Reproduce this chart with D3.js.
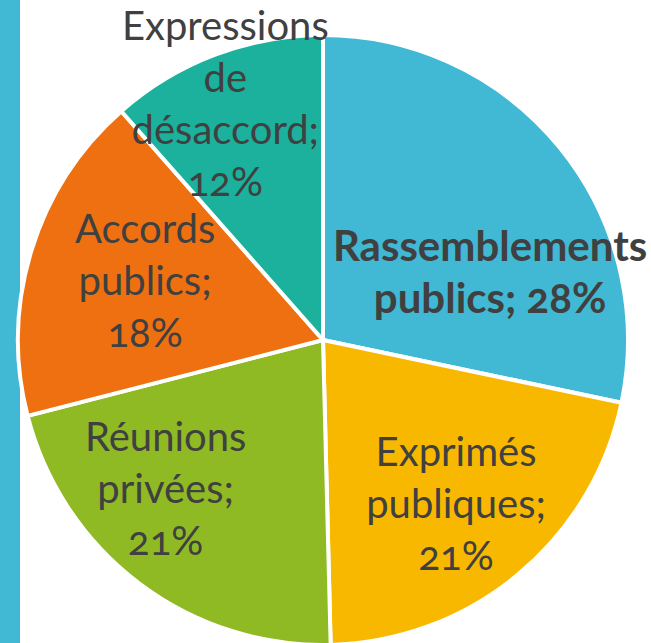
<!DOCTYPE html>
<html>
<head>
<meta charset="utf-8">
<script src="https://cdn.jsdelivr.net/npm/d3@7"></script>
<style>
  body { margin: 0; background: #fff; }
  svg { display: block; }
  .lbl { font-family: Lato, "Open Sans", sans-serif; fill: #404040; font-variant-numeric: oldstyle-nums; font-feature-settings: "onum"; }
</style>
</head>
<body>
<script>
// data
var categories = ["Rassemblements publics", "Exprimés publiques", "Réunions privées", "Accords publics", "Expressions de désaccord"];
var values = [28.3, 21.3, 21.4, 17.5, 11.5];
var colors = ["#41B8D4", "#F9B800", "#8FBA24", "#EE7010", "#1BB19C"];

// how each label is broken into lines, and tweaks
var wrap = [["Rassemblements", "publics; {p}"], ["Exprimés", "publiques;", "{p}"], ["Réunions", "privées;", "{p}"], ["Accords", "publics;", "{p}"], ["Expressions", "de", "désaccord;", "{p}"]];
var nudge = [[25, 49], [16, 24], [-47, 4], [-3, -4], [-33, -64]];
var bold = [true, false, false, false, false];

var width = 651, height = 643;
var cx = 323, cy = 340, radius = 305;
var lineH = 52;

var svg = d3.select("body").append("svg")
    .attr("width", width)
    .attr("height", height);

// blue band on the left
svg.append("rect")
    .attr("x", 0).attr("y", 0)
    .attr("width", 20).attr("height", height)
    .attr("fill", "#41B8D4");

var g = svg.append("g")
    .attr("transform", "translate(" + cx + "," + cy + ")");

var pie = d3.pie().sort(null).value(function(d) { return d; });
var arcs = pie(values);

var arc = d3.arc().innerRadius(0).outerRadius(radius);
var labelArc = d3.arc().innerRadius(radius * 0.6).outerRadius(radius * 0.6);

g.selectAll("path")
    .data(arcs)
  .enter().append("path")
    .attr("d", arc)
    .attr("fill", function(d, i) { return colors[i]; })
    .attr("stroke", "#fff")
    .attr("stroke-width", 4)
    .attr("stroke-linejoin", "round");

g.selectAll("text")
    .data(arcs)
  .enter().append("text")
    .attr("class", "lbl")
    .attr("text-anchor", "middle")
    .style("font-size", function(d, i) { return bold[i] ? "42px" : "40px"; })
    .style("font-weight", function(d, i) { return bold[i] ? "bold" : "normal"; })
    .each(function(d, i) {
      var c = labelArc.centroid(d);
      var x = c[0] + nudge[i][0], y = c[1] + nudge[i][1];
      var pct = Math.round(values[i]) + "%";
      var lines = wrap[i].map(function(s) { return s.replace("{p}", pct); });
      var y0 = y - (lines.length - 1) * lineH / 2 + 13;
      var t = d3.select(this);
      lines.forEach(function(s, k) {
        t.append("tspan")
          .attr("x", x)
          .attr("y", y0 + k * lineH)
          .text(s);
      });
    });
</script>
</body>
</html>
